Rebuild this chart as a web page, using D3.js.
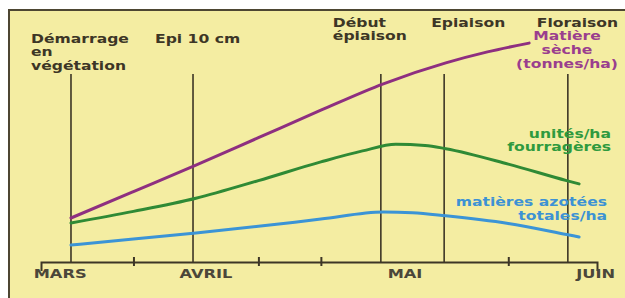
<!DOCTYPE html>
<html>
<head>
<meta charset="utf-8">
<script src="https://cdn.jsdelivr.net/npm/d3@7"></script>
<style>
    body { margin: 0; background: #ffffff; }
    text { font-family: "DejaVu Sans", sans-serif; font-weight: bold; }
</style>
</head>
<body>
<script>
const svgWidth = 625
const svgHeight = 298

// days counted from 1 March
const stageDays = [0, 29.3, 74.4, 89.6, 119.3]
const stageLabels = [["Démarrage", "en", "végétation"], ["Epi 10 cm"], ["Début", "épiaison"], ["Epiaison"], ["Floraison"]]

const monthLabels = ["MARS", "AVRIL", "MAI", "JUIN"]
const monthDays = [-2.6, 32.4, 80.2, 126]
// half-month ticks (the others sit under the stage lines)
const tickDays = [15, 45, 60, 105]

// matière sèche (t/ha)
const msDays = [0, 15, 30, 45, 60, 75, 90, 100, 110]
const msValues = [2.0, 3.2, 4.4, 5.65, 6.9, 8.1, 9.05, 9.55, 9.95]

// unités fourragères / ha (relative)
const ufDays = [0, 15, 30, 45, 60, 70, 78, 85, 90, 105, 119, 122]
const ufValues = [1.77, 2.3, 2.9, 3.7, 4.55, 5.05, 5.35, 5.3, 5.15, 4.45, 3.7, 3.55]

// matières azotées totales / ha (relative)
const matDays = [0, 15, 30, 45, 60, 75, 82, 90, 105, 119, 122]
const matValues = [0.77, 1.05, 1.32, 1.62, 1.95, 2.27, 2.24, 2.1, 1.75, 1.25, 1.14]

const svg = d3.select("body").append("svg")
    .attr("width", svgWidth)
    .attr("height", svgHeight)

// paper + frame
svg.append("rect")
    .attr("x", 9)
    .attr("y", 10)
    .attr("width", svgWidth - 9)
    .attr("height", svgHeight - 10)
    .attr("fill", "#f4eda2")

svg.append("path")
    .attr("d", `M9,${svgHeight} V10 H${svgWidth}`)
    .attr("fill", "none")
    .attr("stroke", "#4d4632")
    .attr("stroke-width", 2)

const x = d3.scaleLinear()
    .domain([-7.2, 126.3])
    .range([41, 597])

const y = d3.scaleLinear()
    .domain([0, 10])
    .range([262, 42])

const stageTop = 74
const sx = 1.3

// stage lines
svg.selectAll(".stage")
    .data(stageDays)
    .enter()
    .append("line")
    .attr("x1", d => x(d))
    .attr("x2", d => x(d))
    .attr("y1", stageTop)
    .attr("y2", y(0))
    .attr("stroke", "#3d3626")
    .attr("stroke-width", 1.6)

// axis
const xAxis = d3.axisBottom(x)
    .tickValues(tickDays)
    .tickSizeOuter(0)
    .tickSize(9)
    .tickFormat("")

const axisG = svg.append("g")
    .attr("transform", `translate(0, ${y(0)})`)
    .call(xAxis)

axisG.select(".domain")
    .attr("stroke", "#3d3626")
    .attr("stroke-width", 2)

axisG.selectAll(".tick line")
    .attr("y1", -5)
    .attr("y2", 4)
    .attr("stroke", "#3d3626")
    .attr("stroke-width", 2)

svg.selectAll(".month")
    .data(monthLabels)
    .enter()
    .append("text")
    .attr("transform", (d, i) => `translate(${x(monthDays[i])}, ${y(0) + 16}) scale(${sx}, 1)`)
    .attr("text-anchor", "middle")
    .attr("font-size", 12.5)
    .attr("fill", "#4b473a")
    .text(d => d)

// curves
const line = d3.line()
    .x(d => x(d[0]))
    .y(d => y(d[1]))
    .curve(d3.curveMonotoneX)

const series = [
    {days: matDays, values: matValues, color: "#3b94d6"},
    {days: ufDays, values: ufValues, color: "#2f8a35"},
    {days: msDays, values: msValues, color: "#8e2f80"}
]

series.forEach(s => {
    svg.append("path")
        .attr("d", line(s.days.map((d, i) => [d, s.values[i]])))
        .attr("fill", "none")
        .attr("stroke", s.color)
        .attr("stroke-width", 3)
        .attr("stroke-linecap", "round")
})

// multi line label helper
function label(lines, px, py, anchor, color, lh) {
    const t = svg.append("text")
        .attr("transform", `translate(${px}, ${py}) scale(${sx}, 1)`)
        .attr("text-anchor", anchor)
        .attr("font-size", 12)
        .attr("fill", color)
    lines.forEach((l, i) => {
        t.append("tspan")
            .attr("x", 0)
            .attr("y", i * lh)
            .text(l)
    })
}

// stage labels
const stageOffsets = [[-40, 43], [-38, 43], [-48, 27], [-13, 27], [-31, 27]]
stageLabels.forEach((lines, i) => {
    label(lines, x(stageDays[i]) + stageOffsets[i][0], stageOffsets[i][1], "start", "#3d3626", 13.5)
})

// series labels
label(["Matière", "sèche", "(tonnes/ha)"], 567, 40, "middle", "#9a3e8e", 14)
label(["unités/ha", "fourragères"], 611, 138, "end", "#2f9a3e", 13.5)
label(["matières azotées", "totales/ha"], 607, 206, "end", "#3d92d4", 14)
</script>
</body>
</html>
